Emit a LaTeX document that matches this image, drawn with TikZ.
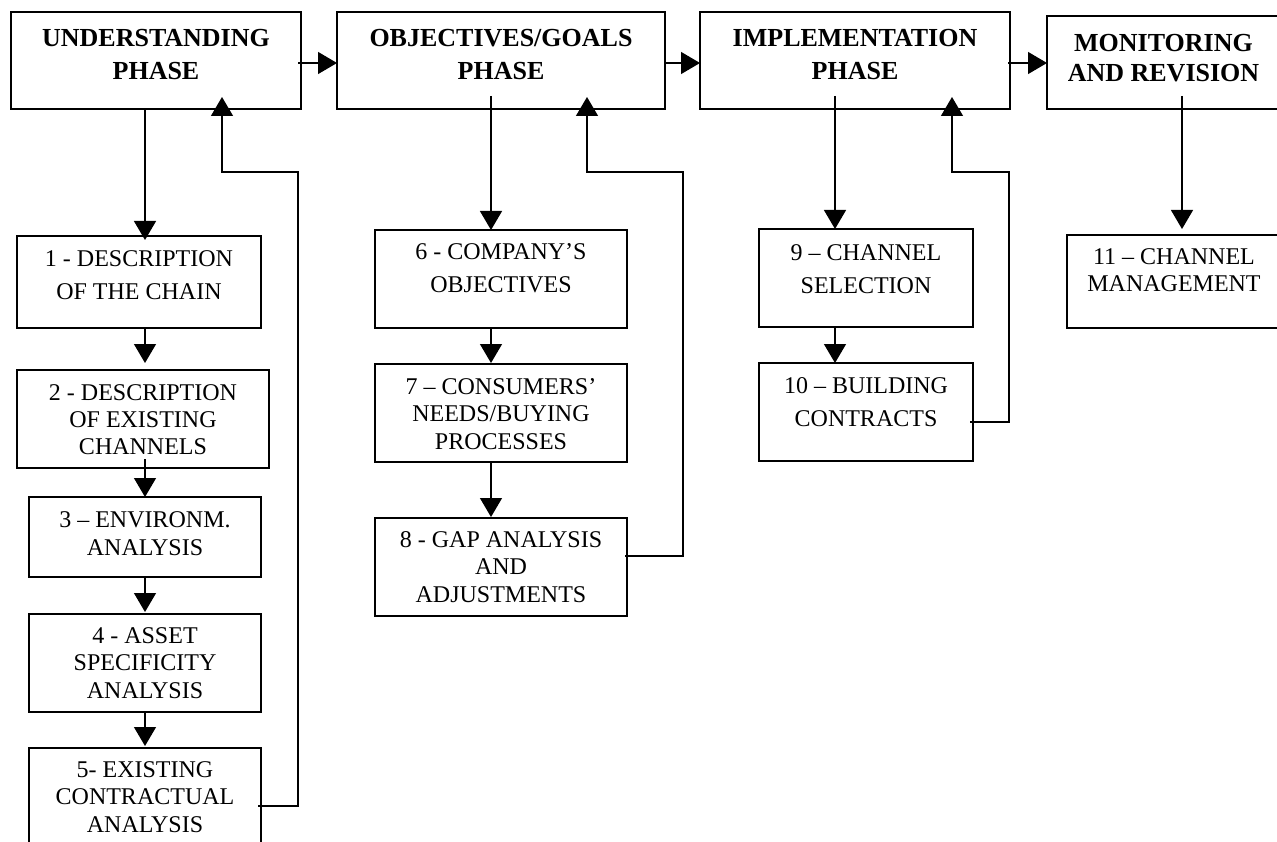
\documentclass[tikz,border=0pt]{standalone}
\usepackage{fontspec}
\setmainfont{Liberation Serif}
\usetikzlibrary{arrows.meta,calc}
% #1 width, #2 height, #3 first baseline, #4 baselineskip, #5 font size, #6 text
\newcommand\bt[6]{\parbox[c][#2pt][t]{#1pt}{\centering\fontsize{#5}{#4pt}\selectfont\rule{0pt}{#3pt}#6}}
\begin{document}
\begin{tikzpicture}[x=1pt,y=-1pt,
  box/.style={draw, line width=1.3pt, inner sep=0pt, outer sep=0pt, anchor=north west},
  arr/.style={line width=1.3pt, -{Triangle[length=19pt,width=22pt]}},
  fb/.style={line width=1.3pt, rounded corners=0pt, -{Triangle[length=19pt,width=22pt]}}]
\useasboundingbox (0,0) rectangle (1277,842);
% phase boxes
\node[box] (U) at (11,12)  {\bt{290}{97}{35}{33}{26}{\bfseries UNDERSTANDING\\PHASE}};
\node[box] (O) at (337,12) {\bt{328}{97}{35}{33}{26}{\bfseries OBJECTIVES/GOALS\hspace*{26pt}\\PHASE}};
\node[box] (I) at (700,12) {\bt{310}{97}{35}{33}{26}{\bfseries IMPLEMENTATION\\PHASE}};
\node[box] (M) at (1047,16){\bt{233}{93}{36}{30}{26}{\bfseries MONITORING\\AND REVISION}};
% step boxes
\node[box] (b1) at (17,236) {\bt{244}{92}{31}{33}{24}{1 - DESCRIPTION\\OF THE CHAIN}};
\node[box] (b2) at (17,370) {\bt{252}{98}{30}{27}{24}{2 - DESCRIPTION\\OF EXISTING\\CHANNELS}};
\node[box] (b3) at (29,497) {\bt{232}{80}{30}{28}{24}{3 – ENVIRONM.\\ANALYSIS}};
\node[box] (b4) at (29,614) {\bt{232}{98}{29}{27.5}{24}{4 - ASSET\\SPECIFICITY\\ANALYSIS}};
\node[box] (b5) at (29,748) {\bt{232}{110}{29}{27.5}{24}{5- EXISTING\\CONTRACTUAL\\ANALYSIS}};
\node[box] (b6) at (375,230) {\bt{252}{98}{30}{33}{24}{6 - COMPANY’S\\OBJECTIVES}};
\node[box] (b7) at (375,364) {\bt{252}{98}{30}{27.5}{24}{7 – CONSUMERS’\\NEEDS/BUYING\\PROCESSES}};
\node[box] (b8) at (375,518) {\bt{252}{98}{29}{27.5}{24}{8 - GAP ANALYSIS\\AND\\ADJUSTMENTS}};
\node[box] (b9) at (759,229) {\bt{214}{98}{32}{32.5}{24}{9 – CHANNEL\\SELECTION}};
\node[box] (b10) at (759,363) {\bt{214}{98}{30}{33}{24}{10 – BUILDING\\CONTRACTS}};
\node[box] (b11) at (1067,235) {\bt{214}{93}{30}{27}{24}{11 – CHANNEL\\MANAGEMENT}};
% helper coordinates
\coordinate (yh) at (0,63);
\coordinate (xU) at (145,0);
\coordinate (xO) at (491,0);
\coordinate (xI) at (835,0);
\coordinate (xM) at (1182,0);
\coordinate (fU) at (222,0);
\coordinate (fO) at (587,0);
\coordinate (fI) at (952,0);
\coordinate (rU) at (298,172);
\coordinate (rO) at (683,172);
\coordinate (rI) at (1009,172);
\coordinate (fy5) at (0,806);
\coordinate (fy8) at (0,556);
\coordinate (fy10) at (0,422);
% phase-to-phase arrows
\draw[arr] ($(U.east |- yh)+(-3,0)$) -- (O.west |- yh);
\draw[arr] (O.east |- yh) -- (I.west |- yh);
\draw[arr] ($(I.east |- yh)+(-2,0)$) -- (M.west |- yh);
% phase-to-first-step arrows
\draw[arr] (xU |- U.south) -- ($(xU |- b1.north)+(0,4)$);
\draw[arr] ($(xO |- O.south)+(0,-13)$) -- (xO |- b6.north);
\draw[arr] ($(xI |- I.south)+(0,-13)$) -- (xI |- b9.north);
\draw[arr] ($(xM |- M.south)+(0,-13)$) -- ($(xM |- b11.north)+(0,-6)$);
% chain arrows
\draw[arr] (xU |- b1.south) -- ($(xU |- b2.north)+(0,-7)$);
\draw[arr] ($(xU |- b2.south)+(0,-9)$) -- (xU |- b3.north);
\draw[arr] (xU |- b3.south) -- ($(xU |- b4.north)+(0,-2)$);
\draw[arr] (xU |- b4.south) -- ($(xU |- b5.north)+(0,-2)$);
\draw[arr] (xO |- b6.south) -- ($(xO |- b7.north)+(0,-1)$);
\draw[arr] (xO |- b7.south) -- ($(xO |- b8.north)+(0,-1)$);
\draw[arr] (xI |- b9.south) -- (xI |- b10.north);
% feedback loops
\draw[fb] ($(b5.east |- fy5)+(-3,0)$) -| (rU) -| ($(fU |- U.south)+(0,-12)$);
\draw[fb] ($(b8.east |- fy8)+(-2,0)$) -| (rO) -| ($(fO |- O.south)+(0,-12)$);
\draw[fb] ($(b10.east |- fy10)+(-3,0)$) -| (rI) -| ($(fI |- I.south)+(0,-12)$);
\end{tikzpicture}
\end{document}
